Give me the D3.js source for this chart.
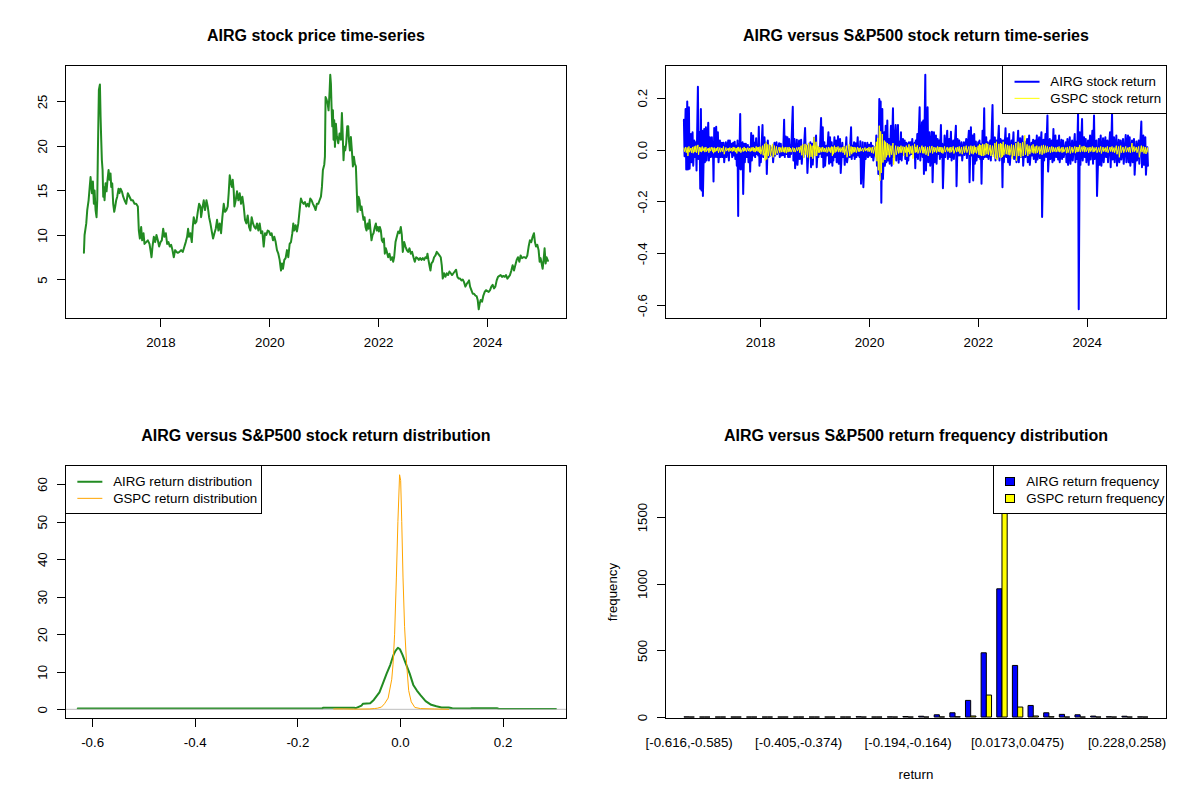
<!DOCTYPE html>
<html>
<head>
<meta charset="utf-8">
<script src="https://cdn.jsdelivr.net/npm/d3@7"></script>
<style>
  body { margin: 0; background: #fff; }
  svg { font-family: "Liberation Sans", Arial, sans-serif; }
</style>
</head>
<body>
<div id="chart"></div>
<script>
// AIRG closing price, [decimal year, price]
const priceSeries = [
  [2016.594,8.0],[2016.606,10.0],[2016.637,11.3],[2016.655,12.8],[2016.680,13.9],[2016.698,15.2],[2016.716,16.5],[2016.741,14.7],
  [2016.759,16.0],[2016.777,13.5],[2016.790,15.0],[2016.808,12.8],[2016.826,12.0],[2016.839,13.9],[2016.851,19.5],[2016.869,26.3],
  [2016.888,26.9],[2016.900,23.3],[2016.912,20.7],[2016.924,18.4],[2016.937,17.3],[2016.949,14.3],[2016.961,15.4],[2016.973,13.9],
  [2016.992,15.8],[2017.010,14.9],[2017.028,16.2],[2017.047,17.3],[2017.065,16.2],[2017.083,16.9],[2017.096,15.4],[2017.114,15.8],
  [2017.132,13.5],[2017.151,12.6],[2017.169,13.2],[2017.187,13.9],[2017.206,14.3],[2017.230,15.2],[2017.248,14.7],[2017.267,15.2],
  [2017.291,14.9],[2017.316,14.3],[2017.340,13.9],[2017.371,13.5],[2017.401,14.7],[2017.432,14.3],[2017.462,13.9],[2017.493,13.9],
  [2017.524,13.5],[2017.554,13.5],[2017.585,13.2],[2017.603,10.5],[2017.622,9.6],[2017.646,10.9],[2017.664,9.4],[2017.689,10.2],
  [2017.707,9.0],[2017.738,9.2],[2017.768,9.4],[2017.799,9.0],[2017.817,8.3],[2017.836,7.5],[2017.854,8.7],[2017.878,9.8],
  [2017.903,9.2],[2017.927,10.0],[2017.952,9.4],[2017.976,8.7],[2018.001,9.2],[2018.025,9.4],[2018.050,10.7],[2018.074,9.8],
  [2018.099,10.2],[2018.123,9.0],[2018.147,9.2],[2018.172,8.7],[2018.196,8.9],[2018.221,8.3],[2018.245,7.5],[2018.270,8.3],
  [2018.294,8.1],[2018.319,8.0],[2018.349,8.1],[2018.380,8.3],[2018.410,8.1],[2018.441,8.7],[2018.465,9.2],[2018.490,9.8],
  [2018.508,10.7],[2018.527,9.8],[2018.551,10.2],[2018.576,9.2],[2018.594,10.9],[2018.612,12.0],[2018.637,11.3],[2018.661,11.5],
  [2018.686,12.6],[2018.710,13.5],[2018.735,13.2],[2018.747,12.0],[2018.771,13.0],[2018.796,13.9],[2018.820,12.8],[2018.845,13.9],
  [2018.869,13.2],[2018.894,12.0],[2018.918,11.3],[2018.943,10.4],[2018.967,9.6],[2018.992,10.2],[2019.016,10.7],[2019.040,11.7],
  [2019.065,10.5],[2019.089,11.3],[2019.114,10.2],[2019.138,12.0],[2019.163,13.5],[2019.187,12.6],[2019.212,12.8],[2019.236,13.2],
  [2019.254,14.7],[2019.273,16.7],[2019.291,16.0],[2019.310,15.4],[2019.328,16.2],[2019.346,15.0],[2019.359,13.2],[2019.383,13.9],
  [2019.407,14.9],[2019.432,13.9],[2019.456,14.7],[2019.481,13.5],[2019.505,14.3],[2019.530,13.2],[2019.554,11.7],[2019.579,11.3],
  [2019.603,12.2],[2019.628,10.9],[2019.652,10.5],[2019.676,12.0],[2019.701,11.3],[2019.725,10.9],[2019.750,10.7],[2019.774,11.3],
  [2019.799,10.5],[2019.823,11.3],[2019.848,10.2],[2019.872,10.4],[2019.897,8.7],[2019.921,10.2],[2019.946,10.0],[2019.970,10.5],
  [2019.995,10.4],[2020.019,10.0],[2020.043,10.2],[2020.068,9.4],[2020.092,9.8],[2020.117,9.2],[2020.141,8.3],[2020.166,7.9],
  [2020.190,7.2],[2020.215,6.0],[2020.233,6.8],[2020.251,6.2],[2020.276,7.2],[2020.300,7.4],[2020.325,8.3],[2020.349,7.5],
  [2020.374,9.0],[2020.398,9.2],[2020.423,10.2],[2020.441,11.3],[2020.459,10.5],[2020.484,11.1],[2020.508,10.4],[2020.533,11.3],
  [2020.551,12.4],[2020.569,13.5],[2020.582,14.1],[2020.606,13.7],[2020.631,13.5],[2020.655,13.7],[2020.679,13.2],[2020.704,13.5],
  [2020.728,13.2],[2020.753,14.1],[2020.777,13.9],[2020.802,13.5],[2020.826,13.2],[2020.851,12.8],[2020.875,13.5],[2020.900,13.5],
  [2020.924,13.9],[2020.949,14.3],[2020.967,15.4],[2020.985,17.3],[2021.010,17.9],[2021.022,18.8],[2021.034,25.5],[2021.053,25.2],
  [2021.071,24.8],[2021.089,24.0],[2021.108,26.1],[2021.120,28.0],[2021.132,27.0],[2021.144,24.4],[2021.157,22.2],[2021.169,24.0],
  [2021.181,20.7],[2021.193,22.9],[2021.206,19.9],[2021.224,22.5],[2021.242,21.0],[2021.267,20.3],[2021.291,21.4],[2021.316,20.7],
  [2021.334,23.7],[2021.346,21.8],[2021.364,18.4],[2021.377,19.9],[2021.395,19.5],[2021.413,20.3],[2021.432,22.2],[2021.450,22.2],
  [2021.462,20.7],[2021.481,19.5],[2021.499,21.0],[2021.517,19.5],[2021.536,17.7],[2021.554,18.8],[2021.572,18.0],[2021.591,17.7],
  [2021.609,14.7],[2021.621,12.6],[2021.640,14.3],[2021.658,13.9],[2021.676,12.8],[2021.695,13.2],[2021.713,12.4],[2021.731,11.7],
  [2021.750,12.0],[2021.768,10.9],[2021.786,10.5],[2021.805,11.3],[2021.823,10.7],[2021.842,11.7],[2021.860,10.5],[2021.878,9.4],
  [2021.897,10.0],[2021.915,10.2],[2021.939,10.9],[2021.958,11.3],[2021.976,10.5],[2021.994,10.9],[2022.013,10.4],[2022.031,10.9],
  [2022.050,10.5],[2022.068,9.4],[2022.086,9.2],[2022.105,9.6],[2022.123,7.9],[2022.141,8.5],[2022.160,8.1],[2022.184,7.5],
  [2022.208,7.9],[2022.233,7.2],[2022.257,7.5],[2022.276,7.0],[2022.294,7.5],[2022.319,9.2],[2022.343,9.8],[2022.368,10.4],
  [2022.392,10.2],[2022.416,10.9],[2022.435,10.0],[2022.453,8.1],[2022.478,9.2],[2022.502,8.7],[2022.527,8.3],[2022.551,8.1],
  [2022.575,8.5],[2022.600,7.9],[2022.624,8.1],[2022.649,7.5],[2022.673,7.0],[2022.698,7.5],[2022.722,7.4],[2022.747,7.2],
  [2022.771,7.4],[2022.796,7.2],[2022.820,7.4],[2022.845,7.2],[2022.869,7.5],[2022.893,7.4],[2022.906,7.9],[2022.924,7.2],
  [2022.942,6.6],[2022.961,6.0],[2022.979,6.8],[2023.004,7.0],[2023.028,7.5],[2023.053,7.7],[2023.077,8.1],[2023.101,7.9],
  [2023.126,7.7],[2023.150,7.5],[2023.169,6.6],[2023.187,5.1],[2023.212,5.7],[2023.236,5.3],[2023.260,5.7],[2023.285,5.5],
  [2023.309,5.9],[2023.334,5.7],[2023.358,5.5],[2023.383,5.7],[2023.407,5.9],[2023.432,6.1],[2023.456,5.3],[2023.481,5.1],
  [2023.505,5.1],[2023.530,4.9],[2023.554,5.0],[2023.578,4.7],[2023.603,4.2],[2023.627,4.5],[2023.652,4.7],[2023.670,4.9],
  [2023.689,4.2],[2023.713,3.8],[2023.738,3.4],[2023.762,3.4],[2023.787,3.2],[2023.811,3.1],[2023.829,2.7],[2023.848,1.65],
  [2023.866,2.3],[2023.884,2.7],[2023.909,2.5],[2023.933,3.2],[2023.958,3.6],[2023.982,3.8],[2024.007,3.7],[2024.031,3.6],
  [2024.056,3.8],[2024.080,4.2],[2024.104,4.4],[2024.129,4.0],[2024.153,4.2],[2024.178,4.9],[2024.202,5.3],[2024.227,5.4],
  [2024.251,5.5],[2024.276,5.3],[2024.300,5.4],[2024.325,5.3],[2024.349,5.5],[2024.374,5.1],[2024.398,5.3],[2024.422,5.5],
  [2024.447,6.0],[2024.471,6.6],[2024.496,6.0],[2024.520,6.6],[2024.545,7.2],[2024.569,7.5],[2024.594,7.0],[2024.618,7.7],
  [2024.643,7.4],[2024.667,7.5],[2024.692,7.5],[2024.716,7.4],[2024.741,7.7],[2024.765,8.7],[2024.789,9.4],[2024.814,9.2],
  [2024.838,9.8],[2024.863,10.2],[2024.881,9.2],[2024.900,8.7],[2024.924,8.9],[2024.948,8.3],[2024.967,7.0],[2024.985,7.4],
  [2025.004,6.8],[2025.022,6.2],[2025.040,7.2],[2025.058,8.5],[2025.077,6.8],[2025.095,7.5],[2025.120,7.1]
];

// daily returns, [decimal year, AIRG return, GSPC return]
const returnSeries = [
  [2016.599,0.115,0.006],[2016.611,-0.026,-0.008],[2016.630,0.156,0.010],[2016.642,-0.077,-0.012],
  [2016.660,0.185,0.008],[2016.672,-0.077,-0.025],[2016.691,0.163,0.012],[2016.703,-0.074,-0.010],
  [2016.728,0.060,0.006],[2016.740,-0.049,-0.012],[2016.758,0.067,0.010],[2016.770,-0.062,-0.014],
  [2016.789,0.035,0.012],[2016.801,-0.029,-0.010],[2016.819,0.028,0.015],[2016.831,-0.081,-0.012],
  [2016.856,0.242,0.018],[2016.868,-0.036,-0.020],[2016.887,0.067,0.010],[2016.899,-0.151,-0.008],
  [2016.911,0.156,0.008],[2016.923,-0.158,-0.010],[2016.936,0.073,0.012],[2016.948,-0.179,-0.006],
  [2016.972,0.079,0.008],[2016.984,-0.049,-0.010],[2017.003,0.086,0.010],[2017.015,-0.042,-0.008],
  [2017.046,0.103,0.006],[2017.058,-0.042,-0.012],[2017.076,0.047,0.008],[2017.088,-0.029,-0.006],
  [2017.113,0.047,0.010],[2017.125,-0.029,-0.008],[2017.131,0.028,0.006],[2017.143,-0.123,-0.014],
  [2017.156,0.083,0.008],[2017.168,-0.029,-0.010],[2017.192,0.088,0.006],[2017.204,-0.029,-0.006],
  [2017.223,0.067,0.010],[2017.235,-0.049,-0.012],[2017.260,0.035,0.008],[2017.272,-0.029,-0.010],
  [2017.296,0.026,0.006],[2017.308,-0.029,-0.008],[2017.327,0.026,0.012],[2017.339,-0.049,-0.018],
  [2017.370,0.028,0.008],[2017.382,-0.029,-0.006],[2017.413,0.035,0.006],[2017.425,-0.042,-0.008],
  [2017.443,0.035,0.008],[2017.455,-0.010,-0.005],[2017.474,0.022,0.006],[2017.486,-0.029,-0.008],
  [2017.504,0.026,0.010],[2017.516,-0.023,-0.006],[2017.532,0.030,0.008],[2017.544,-0.036,-0.010],
  [2017.559,0.015,0.006],[2017.571,-0.062,-0.015],[2017.584,0.035,0.008],[2017.596,-0.256,-0.006],
  [2017.602,0.022,0.010],[2017.614,-0.074,-0.008],[2017.633,0.137,0.008],[2017.645,-0.077,-0.012],
  [2017.676,0.028,0.006],[2017.688,-0.171,-0.008],[2017.706,0.022,0.010],[2017.718,-0.049,-0.006],
  [2017.737,0.022,0.006],[2017.749,-0.029,-0.008],[2017.774,0.018,0.008],[2017.786,-0.049,-0.006],
  [2017.804,0.009,0.006],[2017.816,-0.085,-0.008],[2017.835,0.064,0.008],[2017.847,-0.042,-0.006],
  [2017.871,0.054,0.010],[2017.883,-0.023,-0.008],[2017.896,0.026,0.006],[2017.908,-0.029,-0.010],
  [2017.926,0.044,0.012],[2017.938,-0.017,-0.006],[2017.951,0.015,0.008],[2017.963,-0.023,-0.008],
  [2017.975,0.088,0.010],[2017.987,-0.062,-0.012],[2018.000,0.009,0.012],[2018.012,-0.049,-0.018],
  [2018.043,0.095,0.015],[2018.055,-0.029,-0.022],[2018.079,0.047,0.022],[2018.091,-0.010,-0.042],
  [2018.110,0.026,0.028],[2018.122,-0.094,-0.038],[2018.141,0.035,0.020],[2018.153,-0.029,-0.025],
  [2018.177,0.015,0.018],[2018.189,-0.023,-0.025],[2018.226,0.009,0.022],[2018.238,-0.049,-0.030],
  [2018.263,0.026,0.015],[2018.275,-0.023,-0.022],[2018.300,0.028,0.012],[2018.312,-0.017,-0.015],
  [2018.348,0.024,0.010],[2018.360,-0.029,-0.012],[2018.379,0.022,0.008],[2018.391,-0.023,-0.010],
  [2018.410,0.009,0.012],[2018.422,-0.021,-0.010],[2018.440,0.115,0.008],[2018.452,-0.029,-0.012],
  [2018.471,0.050,0.010],[2018.483,-0.017,-0.014],[2018.501,0.047,0.008],[2018.513,-0.029,-0.010],
  [2018.532,0.041,0.010],[2018.544,-0.029,-0.008],[2018.556,0.015,0.006],[2018.568,-0.017,-0.010],
  [2018.599,0.165,0.008],[2018.611,-0.042,-0.008],[2018.630,0.041,0.006],[2018.642,-0.072,-0.010],
  [2018.673,0.038,0.008],[2018.685,-0.059,-0.006],[2018.715,0.035,0.010],[2018.727,-0.036,-0.012],
  [2018.752,0.038,0.015],[2018.764,-0.055,-0.022],[2018.783,0.009,0.020],[2018.795,-0.029,-0.032],
  [2018.825,0.083,0.022],[2018.837,-0.010,-0.020],[2018.856,0.015,0.018],[2018.868,-0.090,-0.030],
  [2018.893,0.022,0.025],[2018.905,-0.029,-0.033],[2018.923,0.028,0.020],[2018.935,-0.068,-0.028],
  [2018.954,0.022,0.015],[2018.966,-0.058,-0.035],[2018.991,0.046,0.048],[2019.003,-0.004,-0.025],
  [2019.027,0.054,0.030],[2019.039,-0.068,-0.025],[2019.058,0.009,0.015],[2019.070,-0.029,-0.012],
  [2019.082,0.003,0.010],[2019.094,-0.017,-0.012],[2019.119,0.122,0.008],[2019.131,-0.029,-0.010],
  [2019.150,0.086,0.010],[2019.162,-0.068,-0.008],[2019.180,0.028,0.006],[2019.192,-0.062,-0.010],
  [2019.217,0.015,0.008],[2019.229,-0.023,-0.012],[2019.254,0.067,0.010],[2019.266,-0.055,-0.008],
  [2019.284,0.047,0.008],[2019.296,-0.049,-0.012],[2019.315,0.028,0.012],[2019.327,-0.062,-0.025],
  [2019.333,0.015,0.010],[2019.345,-0.042,-0.018],[2019.364,0.047,0.015],[2019.376,-0.029,-0.012],
  [2019.394,0.035,0.010],[2019.406,-0.049,-0.008],[2019.431,0.051,0.012],[2019.443,-0.055,-0.010],
  [2019.468,0.041,0.008],[2019.480,-0.090,-0.010],[2019.510,0.026,0.010],[2019.522,-0.029,-0.012],
  [2019.541,0.009,0.012],[2019.553,-0.059,-0.020],[2019.584,0.047,0.015],[2019.596,-0.049,-0.030],
  [2019.633,0.009,0.020],[2019.645,-0.029,-0.025],[2019.670,0.086,0.012],[2019.682,-0.036,-0.018],
  [2019.694,0.015,0.010],[2019.706,-0.023,-0.012],[2019.725,0.028,0.010],[2019.737,-0.036,-0.010],
  [2019.755,0.024,0.008],[2019.767,-0.029,-0.012],[2019.792,0.047,0.010],[2019.804,-0.023,-0.008],
  [2019.816,0.009,0.006],[2019.828,-0.029,-0.008],[2019.841,0.032,0.008],[2019.853,-0.132,-0.006],
  [2019.884,0.028,0.006],[2019.896,-0.145,-0.008],[2019.926,0.026,0.008],[2019.938,-0.036,-0.006],
  [2019.969,0.026,0.006],[2019.981,-0.029,-0.008],[2020.000,0.019,0.010],[2020.012,-0.023,-0.008],
  [2020.036,0.026,0.008],[2020.048,-0.029,-0.012],[2020.067,0.015,0.010],[2020.079,-0.042,-0.015],
  [2020.110,0.009,0.012],[2020.122,-0.023,-0.030],[2020.134,0.054,0.030],[2020.146,-0.062,-0.045],
  [2020.159,0.015,0.045],[2020.171,-0.094,-0.080],[2020.189,0.195,0.092],[2020.201,-0.100,-0.120],
  [2020.214,0.185,0.070],[2020.226,-0.205,-0.090],[2020.244,0.156,0.060],[2020.256,-0.113,-0.050],
  [2020.281,0.067,0.035],[2020.293,-0.062,-0.040],[2020.306,0.092,0.030],[2020.318,-0.049,-0.030],
  [2020.336,0.112,0.025],[2020.348,-0.042,-0.022],[2020.367,0.041,0.020],[2020.379,-0.055,-0.030],
  [2020.403,0.092,0.015],[2020.415,-0.062,-0.020],[2020.440,0.159,0.025],[2020.452,-0.029,-0.058],
  [2020.489,0.095,0.015],[2020.501,-0.042,-0.020],[2020.532,0.095,0.012],[2020.544,-0.051,-0.015],
  [2020.560,0.030,0.010],[2020.572,-0.036,-0.012],[2020.587,0.067,0.015],[2020.599,-0.042,-0.012],
  [2020.624,0.041,0.012],[2020.636,-0.017,-0.025],[2020.655,0.035,0.010],[2020.667,-0.036,-0.012],
  [2020.685,0.026,0.015],[2020.697,-0.055,-0.028],[2020.710,0.022,0.008],[2020.722,-0.042,-0.010],
  [2020.734,0.028,0.020],[2020.746,-0.023,-0.018],[2020.764,0.028,0.012],[2020.776,-0.017,-0.015],
  [2020.795,0.041,0.015],[2020.807,-0.017,-0.035],[2020.838,0.026,0.022],[2020.850,-0.072,-0.012],
  [2020.860,0.035,0.010],[2020.872,-0.029,-0.010],[2020.887,0.060,0.016],[2020.899,-0.036,-0.015],
  [2020.930,0.163,0.010],[2020.942,-0.042,-0.012],[2020.973,0.105,0.015],[2020.985,-0.029,-0.014],
  [2020.997,0.112,0.010],[2021.009,-0.094,-0.015],[2021.034,0.2885,0.012],[2021.046,-0.081,-0.020],
  [2021.076,0.163,0.010],[2021.088,-0.049,-0.025],[2021.113,0.067,0.012],[2021.125,-0.062,-0.012],
  [2021.156,0.069,0.014],[2021.168,-0.126,-0.015],[2021.193,0.067,0.010],[2021.205,-0.049,-0.010],
  [2021.229,0.054,0.008],[2021.241,-0.055,-0.012],[2021.260,0.041,0.012],[2021.272,-0.017,-0.008],
  [2021.290,0.035,0.010],[2021.302,-0.036,-0.010],[2021.321,0.095,0.010],[2021.333,-0.029,-0.012],
  [2021.346,0.022,0.008],[2021.358,-0.149,-0.015],[2021.388,0.054,0.012],[2021.400,-0.029,-0.010],
  [2021.437,0.073,0.010],[2021.449,-0.036,-0.008],[2021.474,0.041,0.008],[2021.486,-0.029,-0.012],
  [2021.505,0.069,0.010],[2021.517,-0.042,-0.010],[2021.547,0.035,0.012],[2021.559,-0.036,-0.015],
  [2021.596,0.092,0.008],[2021.608,-0.141,-0.010],[2021.627,0.041,0.010],[2021.639,-0.023,-0.008],
  [2021.658,0.035,0.012],[2021.670,-0.023,-0.015],[2021.700,0.028,0.010],[2021.712,-0.042,-0.018],
  [2021.743,0.028,0.012],[2021.755,-0.021,-0.012],[2021.786,0.041,0.015],[2021.798,-0.033,-0.012],
  [2021.835,0.073,0.012],[2021.847,-0.126,-0.020],[2021.872,0.086,0.015],[2021.884,-0.023,-0.015],
  [2021.902,0.054,0.012],[2021.914,-0.119,-0.018],[2021.933,0.060,0.015],[2021.945,-0.055,-0.012],
  [2021.963,0.031,0.010],[2021.975,-0.042,-0.015],[2022.006,0.028,0.015],[2022.018,-0.029,-0.020],
  [2022.030,0.035,0.020],[2022.042,-0.036,-0.022],[2022.055,0.020,0.018],[2022.067,-0.132,-0.025],
  [2022.086,0.073,0.022],[2022.098,-0.036,-0.025],[2022.116,0.159,0.020],[2022.128,-0.029,-0.022],
  [2022.153,0.047,0.025],[2022.165,-0.029,-0.018],[2022.183,0.028,0.022],[2022.195,-0.036,-0.020],
  [2022.226,0.035,0.018],[2022.238,-0.042,-0.025],[2022.269,0.172,0.015],[2022.281,-0.017,-0.028],
  [2022.312,0.047,0.025],[2022.324,-0.042,-0.035],[2022.342,0.035,0.030],[2022.354,-0.029,-0.040],
  [2022.385,0.092,0.022],[2022.397,-0.042,-0.030],[2022.416,0.041,0.025],[2022.428,-0.023,-0.032],
  [2022.440,0.035,0.022],[2022.452,-0.145,-0.028],[2022.465,0.035,0.030],[2022.477,-0.049,-0.022],
  [2022.508,0.082,0.020],[2022.520,-0.029,-0.018],[2022.544,0.044,0.018],[2022.556,-0.049,-0.020],
  [2022.575,0.060,0.015],[2022.587,-0.059,-0.022],[2022.618,0.035,0.020],[2022.630,-0.023,-0.035],
  [2022.654,0.067,0.018],[2022.666,-0.036,-0.025],[2022.697,0.026,0.025],[2022.709,-0.049,-0.043],
  [2022.740,0.073,0.030],[2022.752,-0.049,-0.025],[2022.777,0.044,0.025],[2022.789,-0.029,-0.030],
  [2022.820,0.051,0.028],[2022.832,-0.062,-0.025],[2022.862,0.031,0.055],[2022.874,-0.029,-0.020],
  [2022.905,0.041,0.020],[2022.917,-0.049,-0.025],[2022.942,0.054,0.015],[2022.954,-0.059,-0.018],
  [2022.985,0.026,0.015],[2022.997,-0.023,-0.012],[2023.015,0.038,0.020],[2023.027,-0.036,-0.015],
  [2023.052,0.035,0.012],[2023.064,-0.049,-0.015],[2023.083,0.054,0.015],[2023.095,-0.038,-0.012],
  [2023.125,0.047,0.012],[2023.137,-0.033,-0.018],[2023.168,0.067,0.015],[2023.180,-0.260,-0.020],
  [2023.205,0.038,0.018],[2023.217,-0.042,-0.015],[2023.242,0.060,0.015],[2023.254,-0.029,-0.012],
  [2023.278,0.131,0.012],[2023.290,-0.085,-0.010],[2023.321,0.041,0.010],[2023.333,-0.036,-0.012],
  [2023.358,0.035,0.012],[2023.370,-0.049,-0.010],[2023.388,0.079,0.010],[2023.400,-0.042,-0.008],
  [2023.425,0.054,0.008],[2023.437,-0.029,-0.010],[2023.462,0.035,0.010],[2023.474,-0.038,-0.008],
  [2023.492,0.054,0.012],[2023.504,-0.049,-0.010],[2023.535,0.038,0.008],[2023.547,-0.036,-0.012],
  [2023.566,0.035,0.010],[2023.578,-0.029,-0.010],[2023.615,0.028,0.008],[2023.627,-0.049,-0.014],
  [2023.645,0.041,0.010],[2023.657,-0.059,-0.012],[2023.688,0.047,0.012],[2023.700,-0.055,-0.015],
  [2023.731,0.035,0.010],[2023.743,-0.042,-0.012],[2023.780,0.060,0.012],[2023.792,-0.049,-0.014],
  [2023.810,0.030,0.010],[2023.822,-0.036,-0.010],[2023.841,0.144,0.010],[2023.853,-0.616,-0.008],
  [2023.872,0.067,0.018],[2023.884,-0.059,-0.010],[2023.914,0.118,0.012],[2023.926,-0.042,-0.008],
  [2023.951,0.047,0.014],[2023.963,-0.029,-0.010],[2023.982,0.041,0.010],[2023.994,-0.049,-0.008],
  [2024.024,0.035,0.008],[2024.036,-0.059,-0.012],[2024.061,0.054,0.010],[2024.073,-0.038,-0.008],
  [2024.104,0.073,0.012],[2024.116,-0.055,-0.010],[2024.134,0.131,0.008],[2024.146,-0.036,-0.008],
  [2024.177,0.035,0.010],[2024.189,-0.179,-0.012],[2024.220,0.041,0.008],[2024.232,-0.059,-0.010],
  [2024.257,0.054,0.012],[2024.269,-0.062,-0.015],[2024.300,0.044,0.010],[2024.312,-0.049,-0.008],
  [2024.342,0.047,0.008],[2024.354,-0.029,-0.010],[2024.379,0.035,0.012],[2024.391,-0.049,-0.012],
  [2024.428,0.067,0.010],[2024.440,-0.068,-0.008],[2024.465,0.137,0.012],[2024.477,-0.038,-0.010],
  [2024.501,0.047,0.008],[2024.513,-0.049,-0.012],[2024.544,0.054,0.015],[2024.556,-0.062,-0.018],
  [2024.587,0.038,0.012],[2024.599,-0.049,-0.030],[2024.624,0.035,0.015],[2024.636,-0.038,-0.012],
  [2024.667,0.041,0.010],[2024.679,-0.055,-0.012],[2024.716,0.056,0.012],[2024.728,-0.049,-0.010],
  [2024.758,0.054,0.008],[2024.770,-0.049,-0.010],[2024.789,0.047,0.010],[2024.801,-0.062,-0.012],
  [2024.832,0.035,0.025],[2024.844,-0.049,-0.010],[2024.868,0.041,0.012],[2024.880,-0.097,-0.008],
  [2024.911,0.031,0.010],[2024.923,-0.042,-0.012],[2024.954,0.035,0.012],[2024.966,-0.055,-0.030],
  [2025.003,0.108,0.015],[2025.015,-0.068,-0.010],[2025.040,0.054,0.012],[2025.052,-0.059,-0.015],
  [2025.076,0.047,0.010],[2025.088,-0.097,-0.017],[2025.113,0.009,0.008],[2025.125,-0.062,-0.010]
];

// kernel density of returns, [return, density]
const airgDensity = [
  [-0.628,0.2],[-0.152,0.2],[-0.150,0.4],[-0.089,0.4],[-0.086,0.3],[-0.075,1.0],[-0.072,1.5],[-0.058,1.6],
  [-0.051,2.5],[-0.040,4.5],[-0.033,7.0],[-0.026,9.5],[-0.019,11.8],[-0.0125,14.5],[-0.009,15.5],[-0.004,16.4],
  [0.000,16.0],[0.005,14.5],[0.012,12.0],[0.019,9.5],[0.026,6.5],[0.033,5.0],[0.040,3.8],[0.050,2.2],
  [0.061,1.2],[0.071,0.8],[0.081,0.5],[0.095,0.5],[0.102,0.3],[0.137,0.2],[0.140,0.3],[0.189,0.3],
  [0.193,0.1],[0.304,0.1]
];
const gspcDensity = [
  [-0.129,0.1],[-0.110,0.1],[-0.090,0.05],[-0.060,0.1],[-0.050,0.2],[-0.044,0.3],[-0.036,0.6],[-0.030,1.5],
  [-0.023,3.0],[-0.016,8.0],[-0.0135,12.0],[-0.0104,20.0],[-0.007,35.0],[-0.004,50.0],[-0.0007,62.5],[0.0014,61.0],
  [0.0035,50.0],[0.006,35.0],[0.009,22.0],[0.013,12.0],[0.017,5.0],[0.022,2.0],[0.029,0.5],[0.040,0.2],
  [0.067,0.1],[0.095,0.0]
];

// return frequency table
const binLabels = [
  "[-0.616,-0.585)", "[-0.585,-0.555)", "[-0.555,-0.525)", "[-0.525,-0.495)", "[-0.495,-0.465)",
  "[-0.465,-0.435)", "[-0.435,-0.405)", "[-0.405,-0.374)", "[-0.374,-0.344)", "[-0.344,-0.314)",
  "[-0.314,-0.284)", "[-0.284,-0.254)", "[-0.254,-0.224)", "[-0.224,-0.194)", "[-0.194,-0.164)",
  "[-0.164,-0.133)", "[-0.133,-0.103)", "[-0.103,-0.0731)", "[-0.0731,-0.043)", "[-0.043,-0.0128)",
  "[-0.0128,0.0173)", "[0.0173,0.0475)", "[0.0475,0.0776)", "[0.0776,0.108)", "[0.108,0.138)",
  "[0.138,0.168)", "[0.168,0.198)", "[0.198,0.228)", "[0.228,0.258)", "[0.258,0.289]"
];
const airgFreq = [1,0,0,0,0,0,0,0,0,0,0,2,0,1,4,6,17,32,125,482,962,387,87,32,20,17,7,2,6,1];
const gspcFreq = [0,0,0,0,0,0,0,0,0,0,0,0,0,0,0,0,1,2,8,165,1850,75,8,2,0,0,0,0,0,0];

// tick values
const yearTicks = [2018, 2020, 2022, 2024];
const priceTicks = [5, 10, 15, 20, 25];
const returnTicks = [-0.6, -0.4, -0.2, 0.0, 0.2];
const densityTicks = [0, 10, 20, 30, 40, 50, 60];
const freqTicks = [0, 500, 1000, 1500];

const svg = d3.select("#chart")
    .append("svg")
    .attr("width", 1200)
    .attr("height", 800);

svg.append("rect").attr("width", 1200).attr("height", 800).attr("fill", "#fff");

// R mfrow=c(2,2) layout: margin lines of ~15.94px
const lh = 15.94;
function panel(col, row) {
    return {
        x0: col * 600 + 4.1 * lh, x1: (col + 1) * 600 - 2.1 * lh,
        y0: row * 400 + 4.1 * lh, y1: (row + 1) * 400 - 5.1 * lh,
        g: svg.append("g")
    };
}

// 4% range extension, like R's default xaxs/yaxs = "r"
function pad([a, b]) {
    const d = (b - a) * 0.04;
    return [a - d, b + d];
}

function frame(p, title) {
    p.g.append("rect")
        .attr("x", p.x0).attr("y", p.y0)
        .attr("width", p.x1 - p.x0).attr("height", p.y1 - p.y0)
        .attr("fill", "none").attr("stroke", "#000").attr("stroke-width", 1)
        .attr("shape-rendering", "crispEdges");
    p.g.append("text")
        .attr("x", (p.x0 + p.x1) / 2).attr("y", p.y0 - 24.8)
        .attr("text-anchor", "middle")
        .attr("font-size", 16).attr("font-weight", "bold")
        .text(title);
}

function xAxis(p, scale, ticks, fmt, size) {
    p.g.append("g")
        .attr("transform", `translate(0,${p.y1})`)
        .call(d3.axisBottom(scale).tickValues(ticks).tickFormat(fmt).tickSize(size).tickSizeOuter(0))
        .attr("font-size", 13.3).attr("font-family", null)
        .call(g => g.select(".domain").remove())
        .call(g => g.selectAll("line").attr("shape-rendering", "crispEdges"))
        .call(g => g.selectAll("text").attr("y", 28).attr("dy", null).attr("fill", "#000"));
}

function yAxis(p, scale, ticks, fmt) {
    p.g.append("g")
        .attr("transform", `translate(${p.x0},0)`)
        .call(d3.axisLeft(scale).tickValues(ticks).tickFormat(fmt).tickSize(8).tickSizeOuter(0))
        .attr("font-size", 13.3).attr("font-family", null)
        .call(g => g.select(".domain").remove())
        .call(g => g.selectAll("line").attr("shape-rendering", "crispEdges"))
        .call(g => g.selectAll("text")
            .attr("x", 0).attr("dy", null).attr("fill", "#000")
            .attr("text-anchor", "middle")
            .attr("transform", "translate(-18,0) rotate(-90)"));
}

// legend box anchored at the plot's top-left or top-right corner
function legend(p, side, width, items) {
    const lx = side === "left" ? p.x0 : p.x1 - width;
    const lg = p.g.append("g").attr("transform", `translate(${lx},${p.y0})`);
    lg.append("rect")
        .attr("width", width).attr("height", 48)
        .attr("fill", "#fff").attr("stroke", "#000").attr("stroke-width", 1)
        .attr("shape-rendering", "crispEdges");
    items.forEach((d, i) => {
        const cy = 16.4 + i * 16.6;
        if (d.fill) {
            lg.append("rect")
                .attr("x", 12.4).attr("y", cy - 4.2).attr("width", 8.4).attr("height", 8.4)
                .attr("fill", d.color).attr("stroke", "#000").attr("stroke-width", 1)
                .attr("shape-rendering", "crispEdges");
        } else {
            lg.append("line")
                .attr("x1", 12).attr("x2", 37).attr("y1", cy).attr("y2", cy)
                .attr("stroke", d.color).attr("stroke-width", d.width);
        }
        lg.append("text")
            .attr("x", d.fill ? 32.7 : 47.8).attr("y", cy + 4.7)
            .attr("font-size", 13.3)
            .text(d.label);
    });
}

const lineStyle = path => path
    .attr("fill", "none")
    .attr("stroke-linejoin", "round")
    .attr("stroke-linecap", "round");

// ---- Panel 1: price time-series
const p1 = panel(0, 0);
const x1 = d3.scaleLinear().domain(pad(d3.extent(priceSeries, d => d[0]))).range([p1.x0, p1.x1]);
const y1 = d3.scaleLinear().domain(pad(d3.extent(priceSeries, d => d[1]))).range([p1.y1, p1.y0]);

p1.g.append("path")
    .datum(priceSeries)
    .attr("d", d3.line().x(d => x1(d[0])).y(d => y1(d[1])))
    .attr("stroke", "forestgreen").attr("stroke-width", 2)
    .call(lineStyle);

xAxis(p1, x1, yearTicks, d => d, 8);
yAxis(p1, y1, priceTicks, d => d);
frame(p1, "AIRG stock price time-series");

// ---- Panel 2: return time-series
const p2 = panel(1, 0);
const x2 = d3.scaleLinear().domain(pad(d3.extent(returnSeries, d => d[0]))).range([p2.x0, p2.x1]);
const y2 = d3.scaleLinear().domain(pad(d3.extent(returnSeries, d => d[1]))).range([p2.y1, p2.y0]);

p2.g.append("path")
    .datum(returnSeries)
    .attr("d", d3.line().x(d => x2(d[0])).y(d => y2(d[1])))
    .attr("stroke", "blue").attr("stroke-width", 2)
    .call(lineStyle);

p2.g.append("path")
    .datum(returnSeries)
    .attr("d", d3.line().x(d => x2(d[0])).y(d => y2(d[2])))
    .attr("stroke", "yellow").attr("stroke-width", 1)
    .call(lineStyle);

xAxis(p2, x2, yearTicks, d => d, 8);
yAxis(p2, y2, returnTicks, d => d.toFixed(1));
legend(p2, "right", 164, [
    { label: "AIRG stock return", color: "blue", width: 2 },
    { label: "GSPC stock return", color: "yellow", width: 1 }
]);
frame(p2, "AIRG versus S&P500 stock return time-series");

// ---- Panel 3: return densities
const p3 = panel(0, 1);
const x3 = d3.scaleLinear().domain(pad(d3.extent(returnSeries, d => d[1]))).range([p3.x0, p3.x1]);
const y3 = d3.scaleLinear().domain(pad([0, d3.max(gspcDensity, d => d[1])])).range([p3.y1, p3.y0]);
const densLine = d3.line().x(d => x3(d[0])).y(d => y3(d[1]));

p3.g.append("path")
    .datum(airgDensity)
    .attr("d", densLine)
    .attr("stroke", "forestgreen").attr("stroke-width", 2)
    .call(lineStyle);

// zero line drawn by plot.density
p3.g.append("line")
    .attr("x1", p3.x0).attr("x2", p3.x1)
    .attr("y1", y3(0)).attr("y2", y3(0))
    .attr("stroke", "#BEBEBE").attr("stroke-width", 1);

p3.g.append("path")
    .datum(gspcDensity)
    .attr("d", densLine)
    .attr("stroke", "orange").attr("stroke-width", 1)
    .call(lineStyle);

xAxis(p3, x3, returnTicks, d => d.toFixed(1), 8);
yAxis(p3, y3, densityTicks, d => d);
legend(p3, "left", 196, [
    { label: "AIRG return distribution", color: "forestgreen", width: 2 },
    { label: "GSPC return distribution", color: "orange", width: 1 }
]);
frame(p3, "AIRG versus S&P500 stock return distribution");

// ---- Panel 4: grouped frequency bars
const p4 = panel(1, 1);
const units = d3.scaleLinear().domain(pad([1, binLabels.length * 3])).range([p4.x0, p4.x1]);
const groups = d3.scaleBand()
    .domain(binLabels)
    .range([units(0), units(binLabels.length * 3 + 1)])
    .paddingInner(1 / 3)
    .paddingOuter(1 / 3);
const sub = d3.scaleBand().domain(["AIRG", "GSPC"]).range([0, groups.bandwidth()]);
const y4 = d3.scaleLinear().domain([-12.5, 1888]).range([p4.y1, p4.y0]);

const freqSeries = [
    { key: "AIRG", values: airgFreq, color: "blue" },
    { key: "GSPC", values: gspcFreq, color: "yellow" }
];

// bars as closed paths so that empty bins still show their border, as in R
freqSeries.forEach(s => {
    p4.g.selectAll(`.bar-${s.key}`)
        .data(s.values)
        .enter().append("path")
        .attr("class", `bar-${s.key}`)
        .attr("d", (d, i) => {
            const bx = groups(binLabels[i]) + sub(s.key), bw = sub.bandwidth();
            return `M${bx},${y4(0)}V${y4(d)}H${bx + bw}V${y4(0)}Z`;
        })
        .attr("fill", s.color)
        .attr("stroke", "#000").attr("stroke-width", 1);
});

xAxis(p4, groups, binLabels.filter((d, i) => i % 7 === 0), d => d, 0);
yAxis(p4, y4, freqTicks, d => d);
legend(p4, "right", 173, [
    { label: "AIRG return frequency", color: "blue", fill: true },
    { label: "GSPC return frequency", color: "yellow", fill: true }
]);
frame(p4, "AIRG versus S&P500 return frequency distribution");

p4.g.append("text")
    .attr("x", (p4.x0 + p4.x1) / 2).attr("y", p4.y1 + 60)
    .attr("text-anchor", "middle").attr("font-size", 13.3)
    .text("return");

p4.g.append("text")
    .attr("transform", `translate(${p4.x0 - 48},${(p4.y0 + p4.y1) / 2}) rotate(-90)`)
    .attr("text-anchor", "middle").attr("font-size", 13.3)
    .text("frequency");
</script>
</body>
</html>
